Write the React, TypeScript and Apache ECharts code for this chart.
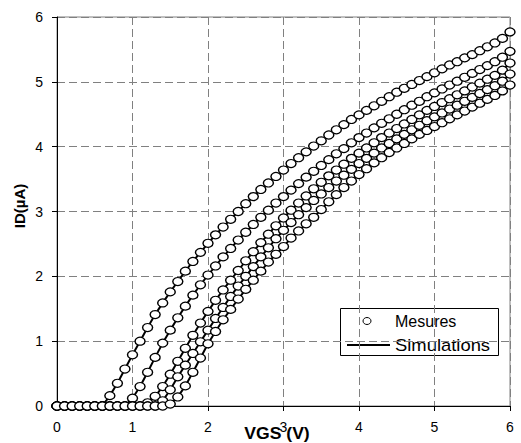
import React, { useEffect, useRef } from "react";
import * as echarts from "echarts";

const VGS = [
  0, 0.1, 0.2, 0.3, 0.4, 0.5, 0.6, 0.7, 0.8, 0.9,
  1.0, 1.1, 1.2, 1.3, 1.4, 1.5, 1.6, 1.7, 1.8, 1.9,
  2.0, 2.1, 2.2, 2.3, 2.4, 2.5, 2.6, 2.7, 2.8, 2.9,
  3.0, 3.1, 3.2, 3.3, 3.4, 3.5, 3.6, 3.7, 3.8, 3.9,
  4.0, 4.1, 4.2, 4.3, 4.4, 4.5, 4.6, 4.7, 4.8, 4.9,
  5.0, 5.1, 5.2, 5.3, 5.4, 5.5, 5.6, 5.7, 5.8, 5.9,
  6.0,
];

const ID_1 = [
  0, 0, 0, 0, 0, 0, 0, 0.16, 0.35, 0.57,
  0.79, 1.0, 1.21, 1.41, 1.59, 1.76, 1.92, 2.08, 2.23, 2.37,
  2.51, 2.64, 2.76, 2.88, 3.0, 3.12, 3.23, 3.34, 3.44, 3.54,
  3.64, 3.74, 3.83, 3.92, 4.01, 4.09, 4.18, 4.26, 4.34, 4.42,
  4.49, 4.56, 4.63, 4.7, 4.77, 4.84, 4.9, 4.96, 5.02, 5.08,
  5.14, 5.2, 5.26, 5.31, 5.37, 5.42, 5.48, 5.54, 5.6, 5.67,
  5.77,
];

const ID_2 = [
  0, 0, 0, 0, 0, 0, 0, 0, 0, 0,
  0.12, 0.3, 0.52, 0.75, 0.97, 1.17, 1.36, 1.54, 1.71, 1.87,
  2.02, 2.16, 2.3, 2.43, 2.56, 2.68, 2.8, 2.91, 3.02, 3.13,
  3.23, 3.33, 3.43, 3.53, 3.62, 3.71, 3.8, 3.89, 3.97, 4.06,
  4.14, 4.21, 4.29, 4.36, 4.43, 4.5, 4.57, 4.64, 4.7, 4.77,
  4.83, 4.89, 4.95, 5.01, 5.07, 5.13, 5.19, 5.25, 5.31, 5.38,
  5.47,
];

const ID_3 = [
  0, 0, 0, 0, 0, 0, 0, 0, 0, 0,
  0, 0, 0.05, 0.15, 0.3, 0.49, 0.69, 0.89, 1.09, 1.28,
  1.46, 1.63, 1.79, 1.94, 2.09, 2.24, 2.38, 2.52, 2.65, 2.78,
  2.9, 3.02, 3.13, 3.24, 3.35, 3.45, 3.55, 3.64, 3.73, 3.82,
  3.9, 3.98, 4.06, 4.14, 4.21, 4.28, 4.35, 4.42, 4.49, 4.56,
  4.62, 4.68, 4.74, 4.8, 4.86, 4.92, 4.98, 5.04, 5.1, 5.18,
  5.29,
];

const ID_4 = [
  0, 0, 0, 0, 0, 0, 0, 0, 0, 0,
  0, 0, 0, 0, 0.08, 0.25, 0.45, 0.63, 0.81, 0.99,
  1.17, 1.35, 1.52, 1.69, 1.85, 2.0, 2.15, 2.3, 2.44, 2.58,
  2.71, 2.83, 2.95, 3.06, 3.17, 3.27, 3.37, 3.47, 3.56, 3.65,
  3.74, 3.82, 3.9, 3.98, 4.05, 4.12, 4.19, 4.26, 4.33, 4.4,
  4.46, 4.52, 4.58, 4.64, 4.7, 4.76, 4.82, 4.88, 4.94, 5.01,
  5.12,
];

const ID_5 = [
  0, 0, 0, 0, 0, 0, 0, 0, 0, 0,
  0, 0, 0, 0, 0, 0.03, 0.14, 0.31, 0.52, 0.74,
  0.96, 1.15, 1.33, 1.49, 1.65, 1.8, 1.94, 2.08, 2.22, 2.34,
  2.46, 2.59, 2.7, 2.81, 2.91, 3.03, 3.15, 3.26, 3.37, 3.47,
  3.57, 3.66, 3.75, 3.83, 3.91, 3.98, 4.05, 4.12, 4.19, 4.25,
  4.31, 4.37, 4.43, 4.49, 4.55, 4.61, 4.67, 4.73, 4.79, 4.86,
  4.95,
];

const CURVES = [ID_1, ID_2, ID_3, ID_4, ID_5];
const X_TITLE = "VGS (V)";
const Y_TITLE = "ID(µA)";
const LEGEND_NAMES = ["Mesures", "Simulations"];

const FONT = "'Liberation Sans', Arial, sans-serif";

export default function App() {
  const ref = useRef<HTMLDivElement>(null);

  useEffect(() => {
    if (!ref.current) return;
    const chart = echarts.init(ref.current, undefined, { renderer: "svg" });

    const pairs = (ys: number[]) => VGS.map((x, i) => [x, ys[i]]);

    const lineSeries = CURVES.map((ys) => ({
      type: "line",
      name: LEGEND_NAMES[1],
      data: pairs(ys),
      showSymbol: false,
      symbol: "none",
      lineStyle: { color: "#000", width: 2 },
      z: 2,
      silent: true,
    }));

    const scatterSeries = CURVES.map((ys) => ({
      type: "scatter",
      name: LEGEND_NAMES[0],
      data: pairs(ys),
      symbol: "circle",
      symbolSize: [10, 8],
      itemStyle: { color: "#fff", borderColor: "#000", borderWidth: 1.3, opacity: 1 },
      z: 3,
      clip: false,
      silent: true,
    }));

    const axisCommon = {
      type: "value",
      min: 0,
      max: 6,
      interval: 1,
      axisLine: { show: true, onZero: false, lineStyle: { color: "#000", width: 1 } },
      axisTick: { show: true, length: 5, lineStyle: { color: "#000" } },
      axisLabel: { color: "#000", fontSize: 14, fontFamily: FONT, margin: 14 },
      splitLine: { show: true, lineStyle: { color: "#808080", width: 1, type: [8, 4] } },
    };

    chart.setOption({
      animation: false,
      backgroundColor: "#fff",
      grid: {
        left: 57,
        right: 11,
        top: 17,
        bottom: 37,
        show: true,
        borderColor: "#808080",
        borderWidth: 1,
        backgroundColor: "transparent",
      },
      xAxis: { ...axisCommon },
      yAxis: { ...axisCommon },
      series: [...lineSeries, ...scatterSeries],
      graphic: [
        {
          type: "text",
          x: 19,
          y: 206,
          rotation: Math.PI / 2,
          style: {
            text: Y_TITLE,
            font: `bold 15px ${FONT}`,
            fill: "#000",
            align: "center",
            verticalAlign: "middle",
          },
        },
        {
          type: "text",
          x: 277,
          y: 434,
          scaleX: 1.1,
          style: {
            text: X_TITLE,
            font: `bold 16px ${FONT}`,
            fill: "#000",
            align: "center",
            verticalAlign: "middle",
          },
        },
        {
          type: "group",
          z: 10,
          children: [
            {
              type: "rect",
              shape: { x: 340.5, y: 308.5, width: 158, height: 47 },
              style: { fill: "#fff", stroke: "#000", lineWidth: 1 },
            },
            {
              type: "ellipse",
              shape: { cx: 367, cy: 321, rx: 4, ry: 3.5 },
              style: { fill: "#fff", stroke: "#000", lineWidth: 1 },
            },
            {
              type: "line",
              shape: { x1: 347, y1: 345, x2: 390, y2: 345 },
              style: { stroke: "#000", lineWidth: 2 },
            },
            {
              type: "text",
              x: 395,
              y: 321,
              style: {
                text: LEGEND_NAMES[0],
                font: `16px ${FONT}`,
                fill: "#000",
                align: "left",
                verticalAlign: "middle",
              },
            },
            {
              type: "text",
              x: 395,
              y: 345,
              scaleX: 1.15,
              style: {
                text: LEGEND_NAMES[1],
                font: `16px ${FONT}`,
                fill: "#000",
                align: "left",
                verticalAlign: "middle",
              },
            },
          ],
        },
      ],
    });

    return () => chart.dispose();
  }, []);

  return (
    <div
      ref={ref}
      style={{ position: "fixed", left: 0, top: 0, width: 521, height: 443 }}
    />
  );
}
